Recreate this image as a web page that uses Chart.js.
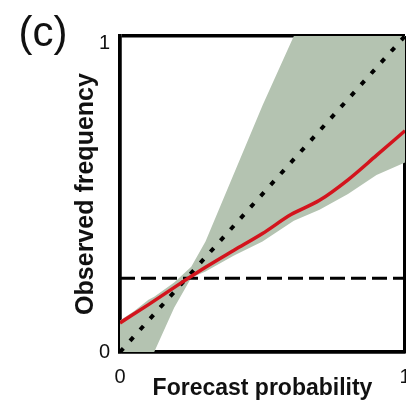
<!DOCTYPE html>
<html>
<head>
<meta charset="utf-8">
<script src="https://cdn.jsdelivr.net/npm/chart.js@4/dist/chart.umd.min.js"></script>
<style>
  html, body { margin: 0; padding: 0; background: #ffffff; }
  #wrap { width: 406px; height: 401px; }
</style>
</head>
<body>
<div id="wrap"><canvas id="chart" width="406" height="401"></canvas></div>
<script>
// Reliability diagram: forecast probability vs observed frequency
const tickValues = [0, 1];

// Fitted reliability curve
const curveX = [0, 0.1, 0.2, 0.3, 0.4, 0.5, 0.6, 0.7, 0.8, 0.9, 1.0];
const curveY = [0.092, 0.15, 0.21, 0.268, 0.322, 0.375, 0.435, 0.48, 0.545, 0.622, 0.70];

// Uncertainty band around the curve
const bandX     = [0, 0.05, 0.1, 0.12, 0.19, 0.25, 0.3, 0.4, 0.5, 0.61, 0.7, 0.8, 0.9, 1.0];
const bandUpper = [0.10, 0.13, 0.165, 0.175, 0.22, 0.27, 0.35, 0.565, 0.78, 1.0, 1.0, 1.0, 1.0, 1.0];
const bandLower = [0, 0, 0, 0, 0.14, 0.235, 0.255, 0.305, 0.35, 0.415, 0.45, 0.50, 0.56, 0.60];

// Perfect reliability diagonal and climatological frequency
const diagX = [0, 1];
const diagY = [0, 1];
const climX = [0, 1];
const climY = [0.233, 0.233];

const pts = (xs, ys) => xs.map((x, i) => ({ x: x, y: ys[i] }));

const panelLabel = {
  id: 'panelLabel',
  afterDraw(chart) {
    const ctx = chart.ctx;
    ctx.save();
    ctx.fillStyle = '#111111';
    ctx.font = '42px "Liberation Sans", Arial, sans-serif';
    ctx.textAlign = 'center';
    ctx.textBaseline = 'middle';
    ctx.fillText('(c)', 43, 34);
    ctx.restore();
  }
};

new Chart(document.getElementById('chart'), {
  type: 'line',
  data: {
    datasets: [
      {
        data: pts(curveX, curveY),
        borderColor: '#d3141d',
        borderWidth: 3.5,
        pointRadius: 0,
        cubicInterpolationMode: 'monotone',
        fill: false,
        order: 0
      },
      {
        data: pts(climX, climY),
        borderColor: '#000000',
        borderWidth: 3,
        borderDash: [15, 6],
        pointRadius: 0,
        fill: false,
        order: 1
      },
      {
        data: pts(diagX, diagY),
        borderColor: '#000000',
        borderWidth: 4,
        borderDash: [5, 10],
        pointRadius: 0,
        fill: false,
        order: 2
      },
      {
        data: pts(bandX, bandUpper),
        borderColor: 'rgba(0,0,0,0)',
        borderWidth: 0,
        pointRadius: 0,
        backgroundColor: '#b4c3b1',
        fill: '+1',
        order: 3
      },
      {
        data: pts(bandX, bandLower),
        borderColor: 'rgba(0,0,0,0)',
        borderWidth: 0,
        pointRadius: 0,
        fill: false,
        order: 4
      }
    ]
  },
  options: {
    responsive: false,
    animation: false,
    events: [],
    layout: { padding: { top: 36, right: 1, left: 0, bottom: 0 } },
    plugins: {
      legend: { display: false },
      tooltip: { enabled: false },
      title: { display: false }
    },
    scales: {
      x: {
        type: 'linear',
        min: 0,
        max: 1,
        z: 1,
        afterBuildTicks: (s) => { s.ticks = tickValues.map(v => ({ value: v })); },
        afterFit: (s) => { s.height = 49; s.paddingLeft = 0; s.paddingRight = 0; },
        grid: { color: '#000000', lineWidth: 3.5, drawTicks: false },
        border: { display: true, color: '#000000', width: 3.5 },
        ticks: {
          padding: 13,
          color: '#111111',
          font: { family: '"Liberation Sans", Arial, sans-serif', size: 20 },
          callback: (v) => String(v)
        },
        title: {
          display: true,
          text: 'Forecast probability',
          color: '#111111',
          font: { family: '"Liberation Sans", Arial, sans-serif', size: 23, weight: 'bold', lineHeight: 1.1 },
          padding: { top: 0, bottom: 0 }
        }
      },
      y: {
        type: 'linear',
        min: 0,
        max: 1,
        z: 1,
        afterBuildTicks: (s) => { s.ticks = tickValues.map(v => ({ value: v })); },
        afterFit: (s) => { s.width = 120; s.paddingTop = 0; s.paddingBottom = 0; },
        grid: { color: '#000000', lineWidth: 3.5, drawTicks: false },
        border: { display: true, color: '#000000', width: 3.5 },
        ticks: {
          padding: 10,
          color: '#111111',
          font: { family: '"Liberation Sans", Arial, sans-serif', size: 20, lineHeight: 0.7 },
          callback: (v) => (v === 1 ? ['', '1'] : String(v))
        },
        title: {
          display: true,
          text: 'Observed frequency',
          color: '#111111',
          font: { family: '"Liberation Sans", Arial, sans-serif', size: 25, weight: 'bold', lineHeight: 1.2 },
          padding: { top: 71, bottom: 0 }
        }
      }
    }
  },
  plugins: [panelLabel]
});
</script>
</body>
</html>
